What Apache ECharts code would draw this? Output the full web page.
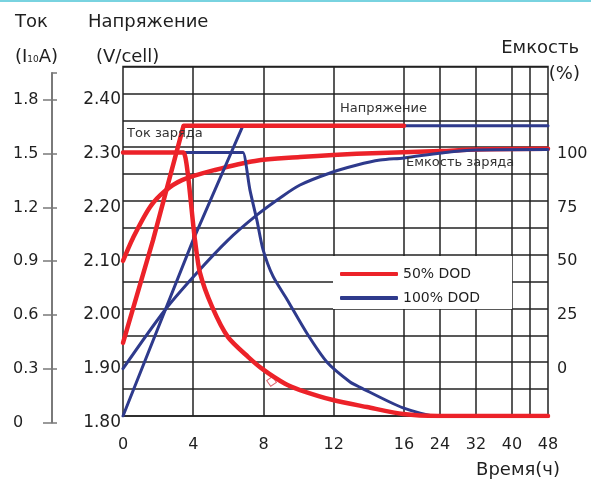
<!DOCTYPE html>
<html>
<head>
<meta charset="utf-8">
<script src="https://cdn.jsdelivr.net/npm/echarts@6/dist/echarts.min.js"></script>
<style>
  html, body { margin: 0; padding: 0; background: #fff; }
  #chart { width: 591px; height: 484px; }
</style>
</head>
<body>
<div id="chart"></div>
<script>
// Время заряда, ч (ось X сжата после 16 ч)
const hourTicks = [0, 4, 8, 12, 16, 24, 32, 40, 48];
const hourGrid = [4, 8, 12, 16, 24, 32, 40, 44];

// [часы, значение]
// 50% DOD
const redCurrent = [[0, 1.47], [3.3, 1.47], [3.45, 1.47], [4.1, 0.98], [4.38, 0.8], [5.07, 0.61], [5.98, 0.44], [7.12, 0.33],
    [7.97, 0.26], [9.23, 0.18], [10.08, 0.145], [11.96, 0.089], [13.9, 0.05], [15.95, 0.011], [23.5, 0], [48, 0]];
const redVoltage = [[0, 1.936], [1.71, 2.127], [3.45, 2.34], [16, 2.34]];
const redCapacity = [[0, 47.1], [0.57, 57.8], [1.54, 72.2], [2.39, 79.6], [3.36, 84.7], [5.24, 89.4], [7.52, 93.6],
    [10.08, 95.4], [11.96, 96.4], [14.64, 97.3], [24.2, 98.2], [32, 98.9], [48, 99.2]];
// 100% DOD
const blueCurrent = [[0, 1.47], [6.7, 1.47], [6.83, 1.47], [7.23, 1.26], [7.63, 1.09], [7.97, 0.93], [8.54, 0.78], [9.34, 0.65],
    [10.48, 0.46], [11.62, 0.3], [12.93, 0.19], [13.5, 0.16], [15.95, 0.045], [23.5, 0], [48, 0]];
const blueVoltage = [[0, 1.8], [3.99, 2.127], [6.83, 2.34], [48, 2.34]];
const blueCapacity = [[0, -3], [2.39, 24.3], [4.1, 40.6], [5.98, 56.8], [7.63, 68.5], [8.94, 76.4], [10.08, 82.4],
    [11.79, 88.0], [13.33, 91.7], [14.64, 94.0], [16, 95.0], [24.2, 97.3], [32, 98.7], [48, 98.9]];
const stray = [[8.46, 0.193]];

const RED = '#ec2229', BLUE = '#2e3a8c', INK = '#1f1f1f', FONT = 'DejaVu Sans';

function toAxis(h) { return h <= 16 ? h : 16 + (h - 16) * 0.25625; }
const conv = arr => arr.map(p => [toAxis(p[0]), p[1]]);
const xMax = toAxis(48);

function lineSeries(name, data, yIdx, color, width, smooth) {
    return { name, type: 'line', xAxisIndex: 0, yAxisIndex: yIdx, data: conv(data), symbol: 'none', showSymbol: false,
        smooth: smooth, lineStyle: { color, width, cap: 'round', join: 'round' }, itemStyle: { color },
        emphasis: { disabled: true }, silent: true };
}

const chart = echarts.init(document.getElementById('chart'));
const labelTxt = { fontFamily: FONT, color: INK };

chart.setOption({
    animation: false,
    backgroundColor: '#fff',
    grid: [
        { left: 123, right: 43, top: 66.5, bottom: 68, show: true, borderColor: '#222', borderWidth: 1.5, outerBoundsMode: 'none' },
        { left: 123, right: 43, top: 73, bottom: 61.5, show: false, outerBoundsMode: 'none' }
    ],
    xAxis: [
        { gridIndex: 0, type: 'value', min: 0, max: xMax, axisLine: { show: false }, axisTick: { show: false }, splitLine: { show: false },
          axisLabel: { customValues: hourTicks.map(toAxis), fontSize: 16, margin: 21, ...labelTxt,
              formatter: v => { const i = hourTicks.map(toAxis).findIndex(t => Math.abs(t - v) < 1e-6); return i >= 0 ? String(hourTicks[i]) : ''; } } },
        { gridIndex: 1, type: 'value', min: 0, max: xMax, show: false }
    ],
    yAxis: [
        // сетка (напряжение)
        { gridIndex: 0, type: 'value', min: 1.8, max: 2.45, interval: 0.05, axisLine: { show: false }, axisTick: { show: false },
          axisLabel: { show: false }, splitLine: { show: true, lineStyle: { color: '#222', width: 1.5 } } },
        // ток (скрыта)
        { gridIndex: 0, type: 'value', min: 0, max: 1.95, show: false },
        // емкость (скрыта)
        { gridIndex: 0, type: 'value', min: -25, max: 137.5, show: false },
        // подписи: ток
        { gridIndex: 1, type: 'value', position: 'left', offset: 71.5, min: 0, max: 1.95, interval: 0.3,
          axisLine: { show: true, onZero: false, lineStyle: { color: '#7a7a7a', width: 2 } },
          axisTick: { show: true, length: 8.5, lineStyle: { color: '#7a7a7a', width: 1.5 } },
          splitLine: { show: false },
          axisLabel: { show: true, align: 'left', margin: 38.5, fontSize: 16, ...labelTxt, showMaxLabel: false,
              formatter: v => v === 0 ? '0' : v.toFixed(1) } },
        { gridIndex: 1, type: 'value', position: 'left', offset: 71.5, min: 0, max: 1.95, interval: 0.3,
          axisLine: { show: false, onZero: false }, axisLabel: { show: false }, splitLine: { show: false },
          axisTick: { show: true, inside: true, length: 5.5, lineStyle: { color: '#7a7a7a', width: 1.5 } } },
        // подписи: напряжение
        { gridIndex: 1, type: 'value', position: 'left', offset: 0, min: 1.8, max: 2.45, interval: 0.1,
          axisLine: { show: false, onZero: false }, axisTick: { show: false }, splitLine: { show: false },
          axisLabel: { margin: 2, fontSize: 17, ...labelTxt, showMaxLabel: false, formatter: v => v.toFixed(2) } },
        // подписи: емкость
        { gridIndex: 1, type: 'value', position: 'right', min: -25, max: 137.5, interval: 25,
          axisLine: { show: false, onZero: false }, axisTick: { show: false }, splitLine: { show: false },
          axisLabel: { margin: 9, fontSize: 16, align: 'left', ...labelTxt,
              formatter: v => (v >= 0 && v <= 100) ? String(v) : '' } }
    ],
    legend: {
        orient: 'vertical', left: 333, top: 256, padding: [11, 32, 4, 7], itemGap: 10, itemWidth: 58, itemHeight: 4,
        icon: 'roundRect', backgroundColor: '#fff', selectedMode: false,
        textStyle: { fontSize: 14, fontFamily: FONT, color: INK },
        data: ['50% DOD', '100% DOD']
    },
    series: [
        { name: 'grid', type: 'line', xAxisIndex: 0, yAxisIndex: 0, data: [], silent: true,
          markLine: { z: 1, silent: true, symbol: ['none', 'none'], label: { show: false }, animation: false,
              lineStyle: { color: '#222', width: 1.5, type: 'solid' },
              data: hourGrid.map(h => ({ xAxis: toAxis(h) })) } },
        lineSeries('50% DOD', redCapacity, 2, RED, 4.5, 0.3),
        lineSeries('100% DOD', blueCapacity, 2, BLUE, 3, 0.3),
        lineSeries('100% DOD', blueVoltage, 0, BLUE, 3, false),
        lineSeries('100% DOD', blueCurrent, 1, BLUE, 3, 0.25),
        lineSeries('50% DOD', redVoltage, 0, RED, 4.5, false),
        lineSeries('50% DOD', redCurrent, 1, RED, 4.5, 0.25),
        { name: 'stray', type: 'scatter', xAxisIndex: 0, yAxisIndex: 1, data: conv(stray), symbol: 'rect', symbolSize: 7,
          symbolRotate: 35, silent: true, itemStyle: { color: '#fff', borderColor: '#d6404e', borderWidth: 1 } }
    ],
    graphic: [
        { type: 'rect', left: 0, top: 0, shape: { width: 591, height: 2 }, style: { fill: '#79d3e0' } },
        { type: 'text', x: 15, y: 22, style: { text: 'Ток', font: '18px "DejaVu Sans"', fill: INK, verticalAlign: 'middle' } },
        { type: 'text', x: 15, y: 57, style: { text: '{a|(I}{b|10}{a|A)}', fill: INK, verticalAlign: 'middle',
            rich: { a: { fontSize: 18, fontFamily: FONT, fill: INK }, b: { fontSize: 9, fontFamily: FONT, fill: INK, verticalAlign: 'bottom', padding: [0, 0, 2, 0] } } } },
        { type: 'text', x: 88, y: 22, style: { text: 'Напряжение', font: '18px "DejaVu Sans"', fill: INK, verticalAlign: 'middle' } },
        { type: 'text', x: 96, y: 57, style: { text: '(V/cell)', font: '18px "DejaVu Sans"', fill: INK, verticalAlign: 'middle' } },
        { type: 'text', x: 579, y: 48, style: { text: 'Емкость', font: '18px "DejaVu Sans"', fill: INK, align: 'right', verticalAlign: 'middle' } },
        { type: 'text', x: 580, y: 74, style: { text: '(%)', font: '18px "DejaVu Sans"', fill: INK, align: 'right', verticalAlign: 'middle' } },
        { type: 'text', x: 560, y: 470, style: { text: 'Время(ч)', font: '18px "DejaVu Sans"', fill: INK, align: 'right', verticalAlign: 'middle' } },
        { type: 'text', x: 127, y: 134, z: 10, style: { text: 'Ток заряда', font: '13px "DejaVu Sans"', fill: '#333', verticalAlign: 'middle' } },
        { type: 'text', x: 340, y: 109, z: 10, style: { text: 'Напряжение', font: '13px "DejaVu Sans"', fill: '#333', verticalAlign: 'middle' } },
        { type: 'text', x: 406, y: 163, z: 10, style: { text: 'Емкость заряда', font: '13px "DejaVu Sans"', fill: '#333', verticalAlign: 'middle' } }
    ]
});
</script>
</body>
</html>
